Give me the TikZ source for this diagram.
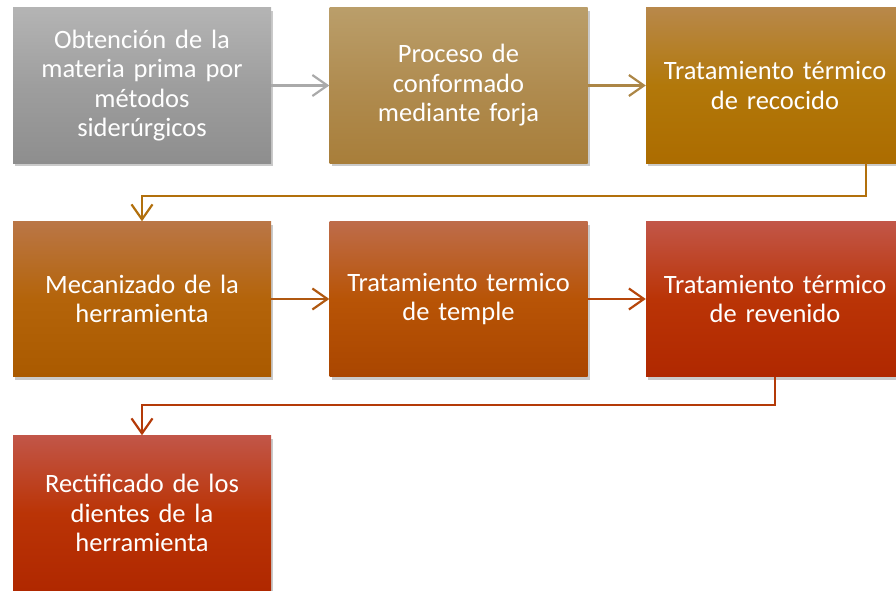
\documentclass[tikz,border=0pt]{standalone}
\usepackage{fontspec}
\setmainfont{Carlito}[WordSpace=0.85]
\usetikzlibrary{arrows.meta,shadows}
\definecolor{t1}{RGB}{180,180,180}\definecolor{m1}{RGB}{158,158,158}\definecolor{b1}{RGB}{142,142,142}
\definecolor{t2}{RGB}{186,158,106}\definecolor{m2}{RGB}{176,140,80}\definecolor{b2}{RGB}{168,126,58}
\definecolor{t3}{RGB}{184,136,74}\definecolor{m3}{RGB}{178,120,10}\definecolor{b3}{RGB}{172,108,0}
\definecolor{t4}{RGB}{186,118,70}\definecolor{m4}{RGB}{180,100,10}\definecolor{b4}{RGB}{170,90,0}
\definecolor{t5}{RGB}{190,108,74}\definecolor{m5}{RGB}{184,84,6}\definecolor{b5}{RGB}{170,70,0}
\definecolor{t6}{RGB}{194,86,72}\definecolor{m6}{RGB}{186,52,6}\definecolor{b6}{RGB}{176,40,0}
\definecolor{c1}{RGB}{170,170,170}\definecolor{c2}{RGB}{172,134,70}\definecolor{c3}{RGB}{178,112,12}
\definecolor{c4}{RGB}{176,88,16}\definecolor{c5}{RGB}{182,70,10}\definecolor{c6}{RGB}{180,58,8}
\tikzset{
  box/.style={rectangle, minimum width=258pt, minimum height=155pt, inner sep=0pt,
    text width=254pt, align=center, text=white,
    font=\fontsize{26.5pt}{29.5pt}\selectfont,
    drop shadow={shadow xshift=2pt, shadow yshift=-3pt, opacity=0.35, fill=black!60}},
  sh/.style n args={3}{top color=#1, bottom color=#3, middle color=#2},
  conn/.style={line width=2.2pt, draw=#1, -{Straight Barb[length=15pt,width=21pt,line width=2.2pt]}},
}
\begin{document}
\begin{tikzpicture}[x=1pt,y=-1pt]
\useasboundingbox (0,0) rectangle (896,591);
\node[box, sh={t1}{m1}{b1}] (n1) at (142,85.5) {Obtención de la\\materia prima por\\métodos\\siderúrgicos};
\node[box, sh={t2}{m2}{b2}] (n2) at (458.5,85.5) {Proceso de\\conformado\\mediante forja};
\node[box, sh={t3}{m3}{b3}] (n3) at (775,85.5) {Tratamiento térmico\\de recocido};
\node[box, sh={t4}{m4}{b4}] (n4) at (142,299) {Mecanizado de la\\herramienta};
\node[box, sh={t5}{m5}{b5}] (n5) at (458.5,299) {Tratamiento termico\\de temple};
\node[box, sh={t6}{m6}{b6}] (n6) at (775,299) {Tratamiento térmico\\de revenido};
\node[box, sh={t6}{m6}{b6}] (n7) at (142,513) {Rectificado de los\\dientes de la\\herramienta};
\coordinate (k1) at (866,196);
\coordinate (k2) at (775,405);
\draw[conn=c1] (n1.east) -- (n2.west);
\draw[conn=c2] (n2.east) -- (n3.west);
\draw[conn=c3] (n3.south -| k1) -- (k1) -| (n4.north);
\draw[conn=c4] (n4.east) -- (n5.west);
\draw[conn=c5] (n5.east) -- (n6.west);
\draw[conn=c6] (n6.south) -- (k2) -| (n7.north);
\end{tikzpicture}
\end{document}
